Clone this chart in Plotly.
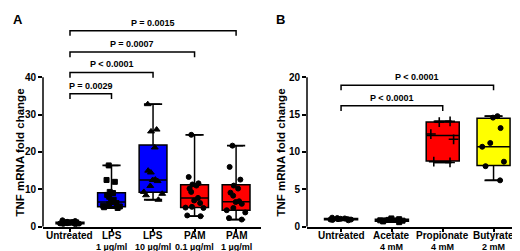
import numpy as np
import plotly.graph_objects as go

# ---------------- data ----------------
a_names = ["Untreated", "LPS", "LPS", "PAM", "PAM"]
a_doses = ["", "1 µg/ml", "10 µg/ml", "0.1 µg/ml", "1 µg/ml"]
a_untreated = [0.6, 0.7, 0.8, 0.85, 0.9, 0.95, 1.0, 1.0, 1.05, 1.1, 1.2, 1.3, 1.5, 1.7]
a_lps1 = [5.0, 5.2, 5.4, 5.6, 6.0, 6.3, 6.6, 7.2, 8.0, 8.5, 9.0, 9.3, 12.0, 12.5, 16.4]
a_lps10 = [7.2, 8.4, 8.8, 9.3, 10.9, 12.2, 12.5, 12.6, 14.5, 15.0, 21.2, 25.5, 26.0, 32.8]
a_pam01 = [2.8, 3.0, 5.0, 5.1, 5.3, 6.3, 7.0, 7.7, 9.3, 10.2, 11.0, 11.3, 11.6, 13.3, 24.6]
a_pam1 = [1.9, 2.3, 3.8, 4.4, 5.0, 6.1, 6.6, 6.8, 8.3, 9.1, 10.2, 11.0, 12.6, 16.0, 21.7]
a_q1 = [0.8, 5.3, 9.2, 5.1, 4.4]
a_median = [1.0, 6.6, 12.5, 7.7, 6.7]
a_q3 = [1.2, 9.1, 21.9, 11.2, 11.2]
a_ticks = [0, 10, 20, 30, 40]
a_pvals = [(0, 1, 35.6, "P = 0.0029"), (0, 2, 41.3, "P < 0.0001"),
           (0, 3, 46.8, "P = 0.0007"), (0, 4, 52.5, "P = 0.0015")]

b_names = ["Untreated", "Acetate", "Propionate", "Butyrate"]
b_doses = ["", "4 mM", "4 mM", "2 mM"]
b_untreated = [0.85, 0.9, 0.95, 0.95, 1.0, 1.0, 1.05, 1.1, 1.15, 1.2]
b_acetate = [0.6, 0.7, 0.8, 0.85, 0.9, 1.0, 1.1]
b_propionate = [8.6, 8.7, 11.7, 12.4, 14.0, 14.1]
b_butyrate = [6.2, 8.1, 8.7, 10.7, 11.2, 13.2, 14.6, 14.8]
b_q1 = [0.92, 0.72, 8.8, 8.2]
b_median = [1.0, 0.85, 12.2, 10.7]
b_q3 = [1.1, 1.0, 14.0, 14.5]
b_ticks = [0, 5, 10, 15, 20]
b_pvals = [(0, 2, 16.2, "P < 0.0001"), (0, 3, 18.95, "P < 0.0001")]

# ---------------- styling ----------------
FONT = "Liberation Sans, Arial, sans-serif"
a_groups = [a_untreated, a_lps1, a_lps10, a_pam01, a_pam1]
a_fill = ["white", "#0000FF", "#0000FF", "#FF0000", "#FF0000"]
a_sym = ["circle", "square", "triangle-up", "circle", "circle"]
b_groups = [b_untreated, b_acetate, b_propionate, b_butyrate]
b_fill = ["white", "white", "#FF0000", "#FFFF00"]
b_sym = ["circle", "square", "cross-thin", "circle"]

fig = go.Figure()


def add_panel(groups, q1, med, q3, fills, syms, xa, ya, bw):
    for i, vals in enumerate(groups):
        v = np.array(vals)
        fig.add_trace(go.Box(
            x=[i], q1=[q1[i]], median=[med[i]], q3=[q3[i]],
            lowerfence=[v.min()], upperfence=[v.max()],
            width=bw, fillcolor=fills[i], line=dict(color="black", width=1.5),
            boxpoints=False, xaxis=xa, yaxis=ya, showlegend=False))
        sym = syms[i]
        size = {"triangle-up": 6, "cross-thin": 7}.get(sym, 5)
        lw = 1.6 if sym == "cross-thin" else 1
        fig.add_trace(go.Box(
            x=[i] * len(v), y=v, width=bw, boxpoints="all", jitter=0.85,
            pointpos=0, fillcolor="rgba(0,0,0,0)", line=dict(width=0, color="rgba(0,0,0,0)"),
            marker=dict(symbol=sym, size=size, color="black", line=dict(color="black", width=lw)),
            xaxis=xa, yaxis=ya, showlegend=False))
        fig.add_trace(go.Scatter(
            x=[i, i], y=[v.min(), v.max()], mode="markers",
            marker=dict(symbol="line-ew", size=13, line=dict(color="black", width=1.8)),
            xaxis=xa, yaxis=ya, showlegend=False, hoverinfo="skip"))


add_panel(a_groups, a_q1, a_median, a_q3, a_fill, a_sym, "x", "y", 0.67)
add_panel(b_groups, b_q1, b_median, b_q3, b_fill, b_sym, "x2", "y2", 0.65)

axis_common = dict(showgrid=False, zeroline=False, ticks="outside", ticklen=4,
                   tickwidth=1.5, tickcolor="black",
                   tickfont=dict(family=FONT, size=10, color="black", weight="bold"))

fig.update_layout(
    width=520, height=251, margin=dict(l=0, r=0, t=0, b=0),
    paper_bgcolor="white", plot_bgcolor="white", boxmode="overlay",
    font=dict(family=FONT, color="black"),
    xaxis=dict(domain=[35 / 520, 253 / 520], range=[-0.65, 4.6],
               tickvals=list(range(5)), showticklabels=False,
               showline=True, linecolor="black", linewidth=1.5, **axis_common),
    yaxis=dict(domain=[27 / 251, 241 / 251], range=[0, 214 / 3.825],
               tickvals=a_ticks, showline=False, **axis_common),
    xaxis2=dict(domain=[299 / 520, 513 / 520], range=[-0.67, 3.54],
                tickvals=list(range(4)), showticklabels=False,
                showline=True, linecolor="black", linewidth=1.5, anchor="y2", **axis_common),
    yaxis2=dict(domain=[27 / 251, 241 / 251], range=[0, 214 / 7.65],
                tickvals=b_ticks, showline=False, anchor="x2", **axis_common),
)

shapes = []
annotations = []
# y axis lines only up to the top tick
for xr, yr, top in [("x", "y", a_ticks[-1]), ("x2", "y2", b_ticks[-1])]:
    shapes.append(dict(type="line", xref=f"{xr} domain", yref=yr, x0=0, x1=0, y0=0, y1=top,
                       line=dict(color="black", width=1.5)))


def brackets(pvals, xr, yr, drop):
    for i, j, lvl, txt in pvals:
        shapes.append(dict(type="path", xref=xr, yref=yr,
                           path=f"M {i},{lvl - drop} L {i},{lvl} L {j},{lvl} L {j},{lvl - drop}",
                           line=dict(color="black", width=1.5)))
        annotations.append(dict(x=(i + j) / 2, y=lvl, xref=xr, yref=yr, text=txt,
                                showarrow=False, yanchor="bottom", yshift=1,
                                font=dict(family=FONT, size=9, color="black", weight="bold")))


brackets(a_pvals, "x", "y", 1.4)
brackets(b_pvals, "x2", "y2", 0.7)


def cat_labels(names, doses, xr):
    for i, (n, d) in enumerate(zip(names, doses)):
        annotations.append(dict(x=i, y=(251 - 233.5) / 251, xref=xr, yref="paper", text=n,
                                showarrow=False, yanchor="middle", borderpad=0,
                                font=dict(family=FONT, size=10, color="black", weight="bold")))
        if d:
            annotations.append(dict(x=i, y=(251 - 244.6) / 251, xref=xr, yref="paper", text=d,
                                    showarrow=False, yanchor="middle", borderpad=0,
                                    font=dict(family=FONT, size=9, color="black", weight="bold")))


cat_labels(a_names, a_doses, "x")
cat_labels(b_names, b_doses, "x2")

for xp in [12, 273]:
    annotations.append(dict(x=xp / 520, y=(251 - 148) / 251, xref="paper", yref="paper",
                            text="TNF mRNA fold change", textangle=-90, showarrow=False,
                            xanchor="center", yanchor="middle",
                            font=dict(family=FONT, size=11.5, color="black", weight="bold")))
for xp, lab in [(3, "A"), (266, "B")]:
    annotations.append(dict(x=xp / 520, y=1 - 2 / 251, xref="paper", yref="paper", text=lab,
                            showarrow=False, xanchor="left", yanchor="top",
                            font=dict(family=FONT, size=13, color="black", weight="bold")))

fig.update_layout(shapes=shapes, annotations=annotations)
fig.write_html("out.html")
